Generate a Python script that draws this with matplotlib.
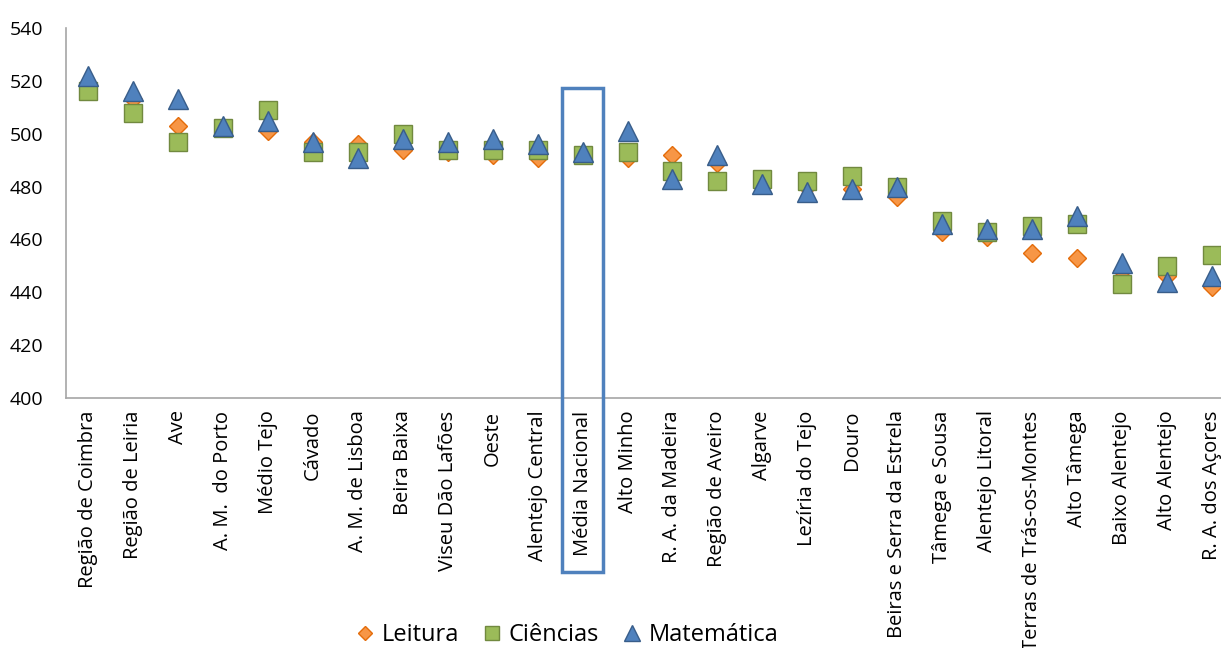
import numpy as np
import matplotlib.pyplot as plt
from matplotlib.patches import Rectangle

plt.rcParams['font.family'] = ['Open Sans', 'DejaVu Sans']

categories = ["Região de Coimbra", "Região de Leiria", "Ave", "A. M.  do Porto", "Médio Tejo",
              "Cávado", "A. M. de Lisboa", "Beira Baixa", "Viseu Dão Lafões", "Oeste",
              "Alentejo Central", "Média Nacional", "Alto Minho", "R. A. da Madeira",
              "Região de Aveiro", "Algarve", "Lezíria do Tejo", "Douro",
              "Beiras e Serra da Estrela", "Tâmega e Sousa", "Alentejo Litoral",
              "Terras de Trás-os-Montes", "Alto Tâmega", "Baixo Alentejo", "Alto Alentejo",
              "R. A. dos Açores"]
leitura = [516, 513, 503, 502, 501, 497, 496, 494, 493, 492, 491, 492, 491,
           492, 489, 482, 480, 479, 476, 463, 461, 455, 453, 448, 446, 442]
ciencias = [516, 508, 497, 502, 509, 493, 493, 500, 494, 494, 494, 492, 493,
            486, 482, 483, 482, 484, 480, 467, 463, 465, 466, 443, 450, 454]
matematica = [522, 516, 513, 503, 505, 497, 491, 498, 497, 498, 496, 493, 501,
              483, 492, 481, 478, 479, 480, 466, 464, 464, 469, 451, 444, 446]
highlight = "Média Nacional"

fig = plt.figure(figsize=(12.21, 6.48), dpi=100)
ax = fig.add_axes([66 / 1221, 1 - 398 / 648, 1168 / 1221, 370 / 648])
x = np.arange(len(categories))

ax.plot(x, leitura, linestyle='none', marker='D', markersize=9.5,
        markerfacecolor='#F79646', markeredgecolor='#E46C0A', markeredgewidth=1, label='Leitura')
ax.plot(x, ciencias, linestyle='none', marker='s', markersize=12.5,
        markerfacecolor='#9BBB59', markeredgecolor='#71893F', markeredgewidth=1, label='Ciências')
ax.plot(x, matematica, linestyle='none', marker='^', markersize=14,
        markerfacecolor='#4F81BD', markeredgecolor='#385D8A', markeredgewidth=1, label='Matemática')

ax.set_xlim(-0.5, len(categories) - 0.5)
ax.set_ylim(400, 540)
ax.set_yticks(np.arange(400, 541, 20))
ax.set_xticks(x)
ax.set_xticklabels(categories, rotation=90)
ax.tick_params(axis='x', length=0, labelsize=14.5, pad=9, colors='#000000')
ax.tick_params(axis='y', length=0, labelsize=14, pad=16.5, colors='#000000')
for s in ['top', 'right']:
    ax.spines[s].set_visible(False)
for s in ['left', 'bottom']:
    ax.spines[s].set_color('#A6A6A6')
    ax.spines[s].set_linewidth(1.2)

# highlight box around national average, reaching down over its label
i = categories.index(highlight)
ax.add_patch(Rectangle((i - 0.46, 334.2), 0.92, 517.3 - 334.2, fill=False,
                       edgecolor='#4F81BD', linewidth=2.5, clip_on=False, zorder=5))

fig.legend(loc='center', bbox_to_anchor=(565 / 1221, 1 - 635 / 648), ncol=3, frameon=False,
           fontsize=17, handletextpad=0.1, columnspacing=0.8, handlelength=1.2, markerscale=0.8)

fig.savefig('out.png', dpi=100)
